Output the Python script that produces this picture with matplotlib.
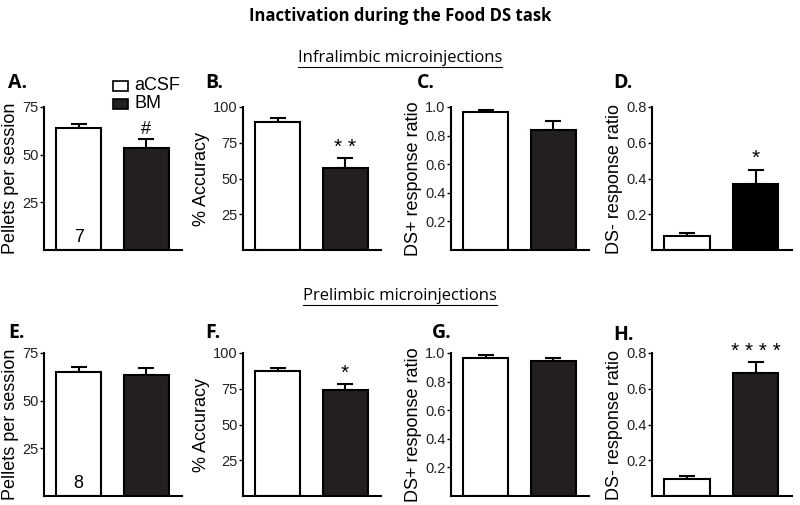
import matplotlib
matplotlib.use("Agg")
import matplotlib.pyplot as plt
from matplotlib.patches import Rectangle

# ---- data ----
groups = ["aCSF", "BM"]
panel_letters = ["A.", "B.", "C.", "D.", "E.", "F.", "G.", "H."]
ylabels = ["Pellets per session", "% Accuracy", "DS+ response ratio", "DS- response ratio"]
yticks = [[25, 50, 75], [25, 50, 75, 100], [0.2, 0.4, 0.6, 0.8, 1.0], [0.2, 0.4, 0.6, 0.8]]
ytick_labels = [["25", "50", "75"], ["25", "50", "75", "100"],
                ["0.2", "0.4", "0.6", "0.8", "1.0"], ["0.2", "0.4", "0.6", "0.8"]]
ymax = [75, 100, 1.0, 0.8]

# Infralimbic (top row)
il_means = [[64.0, 53.5], [89.5, 57.3], [0.965, 0.839], [0.078, 0.369]]
il_sem = [[2.0, 4.7], [2.8, 7.0], [0.014, 0.063], [0.017, 0.080]]
il_sig = ["#", "* *", "", "*"]
il_n = "7"
# Prelimbic (bottom row)
pl_means = [[65.1, 63.5], [87.4, 74.1], [0.965, 0.944], [0.094, 0.689]]
pl_sem = [[2.6, 3.7], [2.1, 4.2], [0.020, 0.020], [0.017, 0.060]]
pl_sig = ["", "*", "", "* * * *"]
pl_n = "8"

title = "Inactivation during the Food DS task"
row_titles = ["Infralimbic microinjections", "Prelimbic microinjections"]

W, H = 800, 505
fig = plt.figure(figsize=(W / 100, H / 100), dpi=100)

def px_axes(x0, y0, x1, y1):
    return fig.add_axes([x0 / W, 1 - y1 / H, (x1 - x0) / W, (y1 - y0) / H])

col_left = [44, 243, 451, 652]
col_right = [182, 381, 589, 792]
rows = [(107, 250), (353, 496)]
bar_colors = ["white", "#231f20"]
tick_font = "Liberation Sans"
label_font = "Liberation Sans"
bold_font = "Open Sans"

letter_pos = [(8, 83), (205, 83), (417, 83), (613, 83),
              (8, 333), (205, 333), (432, 333), (613, 335)]

for r, (means, sems, sigs, nlab) in enumerate([(il_means, il_sem, il_sig, il_n),
                                               (pl_means, pl_sem, pl_sig, pl_n)]):
    top, bot = rows[r]
    for c in range(4):
        ax = px_axes(col_left[c], top, col_right[c], bot)
        xs = [0, 1.5]
        for i in range(2):
            col = bar_colors[i]
            if c == 3 and r == 0 and i == 1:
                col = "black"
            ax.bar(xs[i], means[c][i], width=1.0, color=col, edgecolor="black",
                   linewidth=1.5, zorder=2)
            ax.errorbar(xs[i], means[c][i], yerr=[[0], [sems[c][i]]], fmt="none",
                        ecolor="black", elinewidth=1.5, capsize=6, capthick=1.5, zorder=1)
        ax.set_xlim(-0.77, 2.3)
        ax.set_ylim(0, ymax[c])
        ax.spines["top"].set_visible(False)
        ax.spines["right"].set_visible(False)
        ax.spines["left"].set_linewidth(1.5)
        ax.spines["bottom"].set_linewidth(1.5)
        ax.set_xticks([])
        ax.set_yticks(yticks[c])
        ax.set_yticklabels(ytick_labels[c], fontfamily=tick_font, fontsize=10.5, color="#222222")
        ax.tick_params(axis="y", direction="out", length=3, width=1, pad=1)
        ax.set_ylabel(ylabels[c], fontfamily=label_font, fontsize=13, labelpad=2)
        if sigs[c]:
            yy = means[c][1] + sems[c][1] + ymax[c] * 0.01
            fs = 13 if sigs[c] == "#" else 15
            ax.text(xs[1], yy, sigs[c], ha="center", va="bottom", fontsize=fs,
                    fontfamily=tick_font)
        if c == 0:
            ax.text(xs[0], ymax[c] * 0.03, nlab, ha="center", va="bottom", fontsize=13,
                    fontfamily=label_font)
        lx, ly = letter_pos[r * 4 + c]
        fig.text(lx / W, 1 - ly / H, panel_letters[r * 4 + c], fontsize=14,
                 fontweight="bold", fontfamily=bold_font, ha="left", va="center")

# legend
for i, (g, ypix) in enumerate(zip(groups, [86, 104])):
    fig.patches.append(Rectangle((113 / W, 1 - (ypix + 5) / H), 15 / W, 10 / H,
                                 transform=fig.transFigure, facecolor=bar_colors[i],
                                 edgecolor="black", linewidth=1.2))
    fig.text(134 / W, 1 - ypix / H, g, fontsize=13, fontfamily=label_font,
             ha="left", va="center")

fig.text(0.5, 1 - 16 / H, title, fontsize=12, fontweight="bold", fontfamily=bold_font,
         ha="center", va="center")
for t, ypix in zip(row_titles, [58, 296]):
    txt = fig.text(0.5, 1 - ypix / H, t, fontsize=12, fontfamily=bold_font,
                   ha="center", va="center")
    fig.canvas.draw()
    bb = txt.get_window_extent()
    yline = bb.y0 - 1
    fig.add_artist(plt.Line2D([bb.x0 / W, bb.x1 / W], [yline / H, yline / H],
                              transform=fig.transFigure, color="black", linewidth=0.8))

fig.savefig("out.png", dpi=100)
